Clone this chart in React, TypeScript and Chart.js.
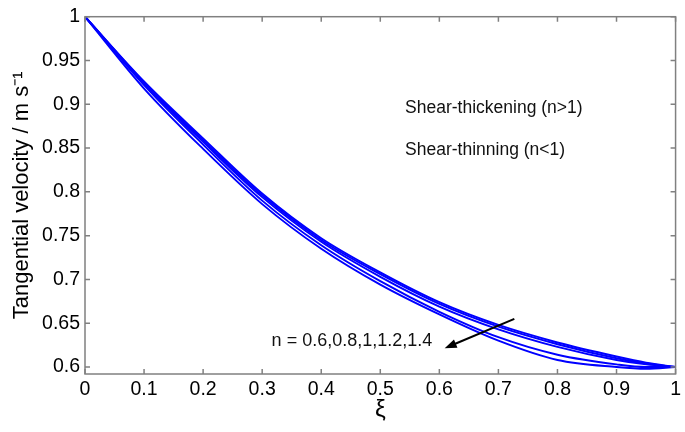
import React, { useEffect, useRef } from 'react';
import { Chart, registerables } from 'chart.js';

Chart.register(...registerables);

// ---- data ----
const xi = [0, 0.1, 0.2, 0.3, 0.4, 0.5, 0.6, 0.7, 0.8, 0.9, 0.95, 1];
const curveA = [1.0, 0.926, 0.861, 0.798, 0.747, 0.708, 0.674, 0.648, 0.628, 0.612, 0.605, 0.6];
const curveB = [1.0, 0.925, 0.859, 0.796, 0.745, 0.706, 0.672, 0.646, 0.626, 0.61, 0.604, 0.6];
const curveC = [1.0, 0.924, 0.857, 0.794, 0.743, 0.703, 0.669, 0.643, 0.623, 0.608, 0.603, 0.6];
const curveD = [1.0, 0.922, 0.854, 0.79, 0.739, 0.698, 0.663, 0.634, 0.614, 0.603, 0.6, 0.6];
const curveE = [1.0, 0.918, 0.849, 0.786, 0.735, 0.694, 0.66, 0.63, 0.608, 0.6, 0.598, 0.6];
const seriesLabels = ['n = 0.6', 'n = 0.8', 'n = 1', 'n = 1.2', 'n = 1.4'];
const seriesValues = [curveA, curveB, curveC, curveD, curveE];

const xTickValues = [0, 0.1, 0.2, 0.3, 0.4, 0.5, 0.6, 0.7, 0.8, 0.9, 1];
const xTickLabels = ['0', '0.1', '0.2', '0.3', '0.4', '0.5', '0.6', '0.7', '0.8', '0.9', '1'];
const yTickValues = [0.6, 0.65, 0.7, 0.75, 0.8, 0.85, 0.9, 0.95, 1];
const yTickLabels = ['0.6', '0.65', '0.7', '0.75', '0.8', '0.85', '0.9', '0.95', '1'];

const xTitle = 'ξ';
const yTitle = 'Tangential velocity / m s⁻¹';
const noteThick = 'Shear-thickening (n>1)';
const noteThin = 'Shear-thinning (n<1)';
const noteN = 'n = 0.6,0.8,1,1.2,1.4';

const FONT = "'Liberation Sans', Arial, Helvetica, sans-serif";

const labelFor = (vals: number[], labels: string[]) => (v: any) => {
  const i = vals.findIndex((t) => Math.abs(t - Number(v)) < 1e-9);
  return i >= 0 ? labels[i] : '';
};

const overlayPlugin = {
  id: 'overlay',
  afterDatasetsDraw(chart: any) {
    const { ctx, chartArea: a, scales } = chart;
    const x = scales.x;
    const y = scales.y;
    ctx.save();
    // box with inward ticks
    ctx.strokeStyle = '#808080';
    ctx.lineWidth = 1.5;
    ctx.strokeRect(a.left, a.top, a.right - a.left, a.bottom - a.top);
    ctx.beginPath();
    const tl = 5;
    for (const v of xTickValues) {
      const px = x.getPixelForValue(v);
      ctx.moveTo(px, a.bottom);
      ctx.lineTo(px, a.bottom - tl);
      ctx.moveTo(px, a.top);
      ctx.lineTo(px, a.top + tl);
    }
    for (const v of yTickValues) {
      const py = y.getPixelForValue(v);
      ctx.moveTo(a.left, py);
      ctx.lineTo(a.left + tl, py);
      ctx.moveTo(a.right, py);
      ctx.lineTo(a.right - tl, py);
    }
    ctx.stroke();

    // annotations
    ctx.fillStyle = '#111';
    ctx.textAlign = 'left';
    ctx.textBaseline = 'alphabetic';
    ctx.font = `17.5px ${FONT}`;
    ctx.fillText(noteThick, x.getPixelForValue(0.542), y.getPixelForValue(0.8895));
    ctx.fillText(noteThin, x.getPixelForValue(0.542), y.getPixelForValue(0.842));
    ctx.font = `18px ${FONT}`;
    ctx.fillText(noteN, x.getPixelForValue(0.316), y.getPixelForValue(0.6245));

    // arrow
    const x0 = x.getPixelForValue(0.727);
    const y0 = y.getPixelForValue(0.655);
    const x1 = x.getPixelForValue(0.609);
    const y1 = y.getPixelForValue(0.6214);
    const ang = Math.atan2(y1 - y0, x1 - x0);
    const hl = 12;
    const hw = 4.5;
    ctx.strokeStyle = '#000';
    ctx.lineWidth = 2;
    ctx.beginPath();
    ctx.moveTo(x0, y0);
    ctx.lineTo(x1 - Math.cos(ang) * hl * 0.8, y1 - Math.sin(ang) * hl * 0.8);
    ctx.stroke();
    ctx.fillStyle = '#000';
    ctx.beginPath();
    ctx.moveTo(x1, y1);
    const bx = x1 - Math.cos(ang) * hl;
    const by = y1 - Math.sin(ang) * hl;
    ctx.lineTo(bx + Math.sin(ang) * hw, by - Math.cos(ang) * hw);
    ctx.lineTo(bx - Math.sin(ang) * hw, by + Math.cos(ang) * hw);
    ctx.closePath();
    ctx.fill();
    ctx.restore();
  },
};

export default function App() {
  const ref = useRef<HTMLCanvasElement | null>(null);

  useEffect(() => {
    if (!ref.current) return;
    const datasets = seriesValues.map((vals, k) => ({
      label: seriesLabels[k],
      data: xi.map((xv, i) => ({ x: xv, y: vals[i] })),
      borderColor: '#0000ff',
      backgroundColor: '#0000ff',
      borderWidth: 1.9,
      pointRadius: 0,
      fill: false,
      cubicInterpolationMode: 'monotone' as const,
    }));
    const chart = new Chart(ref.current, {
      type: 'line',
      data: { datasets },
      options: {
        animation: false,
        responsive: false,
        maintainAspectRatio: false,
        layout: { padding: { top: 13, right: 6, left: 0, bottom: 0 } },
        plugins: { legend: { display: false }, tooltip: { enabled: false } },
        scales: {
          x: {
            type: 'linear',
            min: 0,
            max: 1,
            grid: { display: false, drawTicks: false },
            border: { display: false },
            afterBuildTicks: (s: any) => {
              s.ticks = xTickValues.map((v) => ({ value: v }));
            },
            afterFit: (s: any) => {
              s.height = 58;
            },
            ticks: {
              autoSkip: false,
              maxRotation: 0,
              padding: 4,
              color: '#000',
              font: { family: FONT, size: 19.5 },
              callback: labelFor(xTickValues, xTickLabels),
            },
            title: {
              display: true,
              text: xTitle,
              color: '#000',
              font: { family: FONT, size: 24 },
              padding: { top: 0, bottom: 7 },
            },
          },
          y: {
            type: 'linear',
            min: 0.592,
            max: 1,
            grid: { display: false, drawTicks: false },
            border: { display: false },
            afterBuildTicks: (s: any) => {
              s.ticks = yTickValues.map((v) => ({ value: v }));
            },
            afterFit: (s: any) => {
              s.width = 85;
            },
            ticks: {
              autoSkip: false,
              padding: 5,
              color: '#000',
              font: { family: FONT, size: 19.5 },
              callback: labelFor(yTickValues, yTickLabels),
            },
            title: {
              display: true,
              text: yTitle,
              color: '#000',
              font: { family: FONT, size: 22 },
              padding: { top: 9, bottom: 0 },
            },
          },
        },
      },
      plugins: [overlayPlugin],
    });
    return () => chart.destroy();
  }, []);

  return (
    <div style={{ position: 'absolute', left: 0, top: 0, width: 685, height: 432, background: '#fff' }}>
      <canvas ref={ref} width={685} height={432} style={{ display: 'block' }} />
    </div>
  );
}
